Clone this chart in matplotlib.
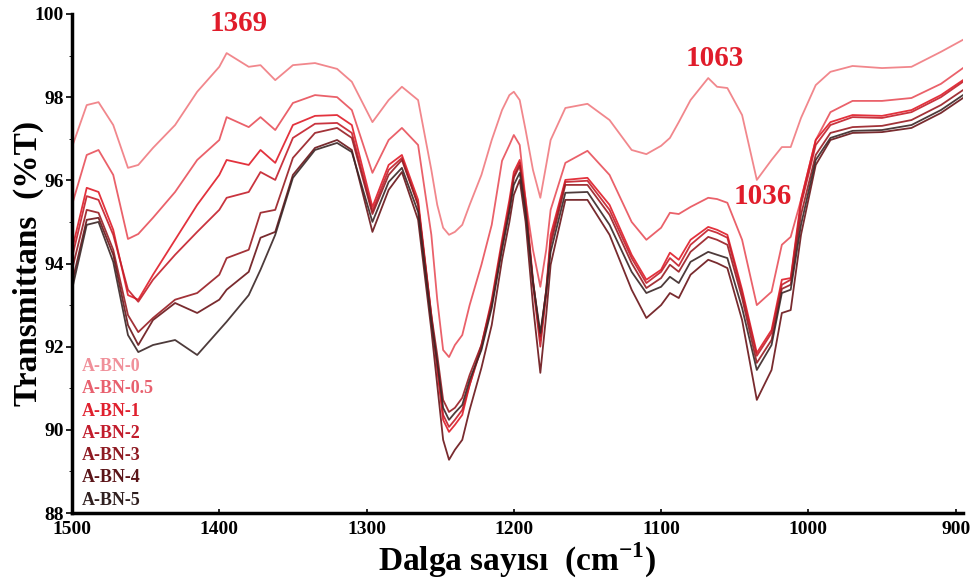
import matplotlib
matplotlib.use("Agg")
import matplotlib.pyplot as plt

plt.rcParams['font.family'] = ['Liberation Serif', 'DejaVu Serif']
plt.rcParams['font.weight'] = 'bold'
plt.rcParams['mathtext.fontset'] = 'custom'
plt.rcParams['mathtext.rm'] = 'Liberation Serif:bold'
plt.rcParams['mathtext.bf'] = 'Liberation Serif:bold'

wavenumber = [1500, 1490, 1482, 1472, 1462, 1455, 1445, 1430, 1415, 1400,
              1395, 1380, 1372, 1362, 1350, 1335, 1320, 1310, 1296, 1285,
              1276, 1265, 1256, 1252, 1248, 1244, 1240, 1235, 1230, 1222,
              1215, 1208, 1203, 1200, 1196, 1192, 1187, 1182, 1178, 1175,
              1165, 1150, 1135, 1120, 1110, 1100, 1094, 1088, 1080, 1068,
              1062, 1055, 1045, 1035, 1025, 1018, 1012, 1005, 995, 985,
              970, 950, 930, 910, 895]

bn_0 = [96.80, 97.81, 97.88, 97.33, 96.30, 96.37, 96.78, 97.33, 98.13, 98.73,
        99.06, 98.73, 98.77, 98.41, 98.77, 98.82, 98.68, 98.37, 97.40, 97.93,
        98.25, 97.93, 96.25, 95.41, 94.86, 94.69, 94.76, 94.93, 95.41, 96.13,
        96.97, 97.69, 98.05, 98.13, 97.93, 97.21, 96.25, 95.58, 96.37, 96.97,
        97.74, 97.84, 97.45, 96.73, 96.63, 96.83, 97.02, 97.40, 97.93, 98.46,
        98.25, 98.22, 97.57, 96.01, 96.49, 96.80, 96.80, 97.50, 98.29, 98.61,
        98.75, 98.70, 98.73, 99.09, 99.38]

bn_05 = [95.41, 96.61, 96.73, 96.13, 94.59, 94.71, 95.10, 95.72, 96.49, 96.97,
         97.52, 97.28, 97.52, 97.21, 97.86, 98.05, 98.00, 97.69, 96.18, 96.97,
         97.26, 96.85, 94.69, 93.13, 91.92, 91.75, 92.04, 92.28, 93.00, 93.97,
         94.93, 96.47, 96.85, 97.09, 96.85, 95.53, 94.33, 93.44, 94.33, 95.29,
         96.42, 96.71, 96.13, 95.00, 94.57, 94.86, 95.22, 95.19, 95.36, 95.58,
         95.55, 95.46, 94.57, 93.00, 93.32, 94.45, 94.64, 95.53, 96.97, 97.64,
         97.91, 97.91, 97.98, 98.32, 98.70]

bn_1 = [94.33, 95.82, 95.72, 94.81, 93.24, 93.13, 93.73, 94.57, 95.41, 96.13,
        96.49, 96.37, 96.73, 96.42, 97.33, 97.55, 97.57, 97.33, 95.36, 96.37,
        96.61, 95.53, 92.76, 91.44, 90.24, 89.95, 90.12, 90.36, 91.08, 92.04,
        93.13, 94.57, 95.53, 96.20, 96.49, 95.53, 93.61, 92.16, 93.37, 94.69,
        96.01, 96.06, 95.41, 94.21, 93.61, 93.85, 94.26, 94.09, 94.57, 94.88,
        94.81, 94.69, 93.37, 91.85, 92.40, 93.61, 93.65, 95.53, 96.97, 97.40,
        97.57, 97.55, 97.69, 98.05, 98.41]

bn_2 = [94.14, 95.62, 95.53, 94.69, 93.37, 93.08, 93.61, 94.21, 94.76, 95.29,
        95.58, 95.72, 96.20, 96.01, 97.02, 97.36, 97.38, 97.14, 95.26, 96.25,
        96.54, 95.41, 92.69, 91.56, 90.36, 90.07, 90.24, 90.48, 91.08, 91.97,
        93.00, 94.45, 95.41, 96.11, 96.42, 95.41, 93.49, 92.00, 93.24, 94.57,
        95.96, 95.99, 95.29, 94.13, 93.53, 93.80, 94.13, 93.94, 94.45, 94.81,
        94.74, 94.62, 93.29, 91.78, 92.33, 93.49, 93.61, 95.41, 96.85, 97.33,
        97.52, 97.50, 97.64, 98.00, 98.37]

bn_3 = [93.85, 95.29, 95.22, 94.33, 92.76, 92.35, 92.69, 93.13, 93.29, 93.73,
        94.13, 94.33, 95.22, 95.29, 96.54, 97.14, 97.26, 97.02, 95.19, 96.13,
        96.49, 95.41, 92.76, 91.80, 90.72, 90.43, 90.53, 90.77, 91.32, 92.04,
        93.05, 94.45, 95.34, 96.06, 96.35, 95.36, 93.56, 92.24, 93.37, 94.45,
        95.89, 95.89, 95.17, 94.01, 93.41, 93.65, 93.97, 93.80, 94.28, 94.64,
        94.57, 94.45, 93.17, 91.61, 92.16, 93.39, 93.49, 95.17, 96.61, 97.14,
        97.28, 97.31, 97.45, 97.81, 98.17]

bn_4 = [93.53, 95.05, 95.10, 94.21, 92.52, 92.04, 92.64, 93.05, 92.81, 93.13,
        93.37, 93.80, 94.62, 94.76, 96.13, 96.78, 96.97, 96.73, 94.76, 95.77,
        96.20, 95.05, 92.40, 91.08, 89.76, 89.28, 89.52, 89.76, 90.48, 91.49,
        92.52, 94.09, 95.00, 95.65, 96.01, 95.00, 93.00, 91.37, 92.76, 93.97,
        95.53, 95.53, 94.69, 93.37, 92.69, 93.00, 93.29, 93.17, 93.73, 94.09,
        94.01, 93.89, 92.64, 90.72, 91.44, 92.81, 92.88, 94.69, 96.37, 96.97,
        97.14, 97.16, 97.26, 97.62, 97.98]

bn_5 = [93.37, 94.93, 95.00, 94.04, 92.28, 91.87, 92.04, 92.16, 91.80, 92.40,
        92.60, 93.24, 93.85, 94.69, 96.06, 96.73, 96.90, 96.68, 95.00, 95.96,
        96.30, 95.24, 92.60, 91.63, 90.53, 90.24, 90.41, 90.60, 91.20, 91.92,
        92.93, 94.33, 95.24, 95.89, 96.18, 95.22, 93.56, 92.33, 93.32, 94.28,
        95.70, 95.72, 94.93, 93.80, 93.29, 93.44, 93.68, 93.53, 94.04, 94.28,
        94.21, 94.13, 92.93, 91.44, 92.04, 93.29, 93.37, 94.93, 96.49, 97.02,
        97.19, 97.21, 97.33, 97.69, 98.05]

series_names = ['A-BN-0', 'A-BN-0.5', 'A-BN-1', 'A-BN-2', 'A-BN-3', 'A-BN-4', 'A-BN-5']
series_values = [bn_0, bn_05, bn_1, bn_2, bn_3, bn_4, bn_5]
line_colors = ['#f07a80', '#e8505a', '#e01c28', '#c41e2a', '#981c22', '#6a1418', '#3a2626']
label_colors = ['#f0909a', '#e8606e', '#e0202e', '#c21c2c', '#8e1a22', '#5a1418', '#302020']

peak_labels = ['1369', '1063', '1036']
peak_label_x = [1387, 1063.5, 1031]
peak_label_y = [99.78, 98.94, 95.62]

x_ticks = [1500, 1400, 1300, 1200, 1100, 1000, 900]
y_ticks = [88, 90, 92, 94, 96, 98, 100]

fig = plt.figure(figsize=(9.73, 5.80), dpi=100)
ax = fig.add_axes([72/973, 1 - 513/580, 891/973, 499/580])

for vals, col in zip(series_values, line_colors):
    ax.plot(wavenumber, vals, color=col, lw=1.3, alpha=0.9)

ax.set_xlim(1500, 895)
ax.set_ylim(88, 100)
ax.set_xticks(x_ticks)
ax.set_yticks(y_ticks)
ax.set_yticks([89, 91, 93, 95, 97, 99], minor=True)
ax.tick_params(axis='both', labelsize=14, width=1.2)
ax.tick_params(axis='x', direction='in', length=3, pad=6)
ax.tick_params(axis='y', direction='out', length=4, pad=2)
ax.tick_params(axis='y', which='minor', direction='out', length=2)
for lab in ax.get_xticklabels() + ax.get_yticklabels():
    lab.set_fontweight('bold')

for s in ['top', 'right']:
    ax.spines[s].set_visible(False)
for s in ['left', 'bottom']:
    ax.spines[s].set_linewidth(2.5)

ax.set_xlabel('Dalga sayısı  (cm$^{\\mathbf{-1}}$)', fontsize=24, fontweight='bold', labelpad=2)
fig.text(28/973, 1 - 263/580, 'Transmittans  (%T)', rotation=90, fontsize=24,
         fontweight='bold', ha='center', va='center')

for t, xx, yy in zip(peak_labels, peak_label_x, peak_label_y):
    ax.text(xx, yy, t, color='#e01c2a', fontsize=21, fontweight='bold',
            ha='center', va='center')

for i, (name, col) in enumerate(zip(series_names, label_colors)):
    ax.text(0.011, 0.293 - i * 0.0445, name, transform=ax.transAxes,
            color=col, fontsize=13, fontweight='bold', ha='left', va='center')

fig.savefig('out.png', dpi=100)
